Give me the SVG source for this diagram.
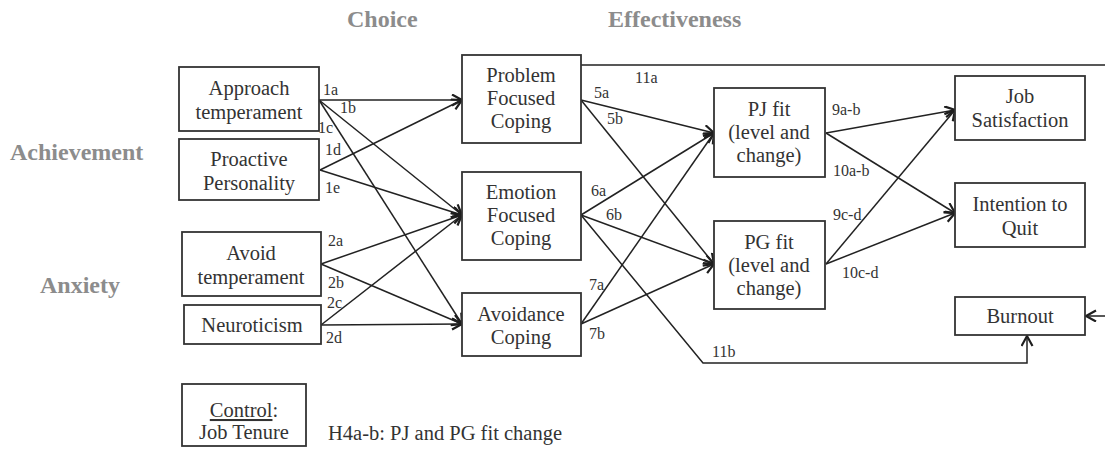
<svg xmlns="http://www.w3.org/2000/svg" width="1105" height="450" viewBox="0 0 1105 450">
<defs>
<marker id="arr" markerUnits="userSpaceOnUse" markerWidth="16" markerHeight="16" refX="11" refY="6" orient="auto">
<path d="M1,0.5 L11,6 L1,11.5" fill="none" stroke="#1e1e1e" stroke-width="2.2" stroke-linejoin="miter"/>
</marker>
<style>
.box{fill:#fff;stroke:#333;stroke-width:1.8}
.t{font-family:"Liberation Serif","Times New Roman",serif;font-size:20.5px;fill:#333;text-anchor:middle}
.lb{font-family:"Liberation Serif","Times New Roman",serif;font-size:16px;fill:#333}
.hd{font-family:"Liberation Serif","Times New Roman",serif;font-size:24px;font-weight:bold;fill:#8c8c8c}
.c{fill:none;stroke:#222;stroke-width:1.5}
.ca{fill:none;stroke:#222;stroke-width:1.5;marker-end:url(#arr)}
</style>
</defs>
<rect width="1105" height="450" fill="#fff"/>

<g id="headers">
<text class="hd" x="347" y="27">Choice</text>
<text class="hd" x="608" y="27">Effectiveness</text>
<text class="hd" x="10" y="160">Achievement</text>
<text class="hd" x="40" y="293">Anxiety</text>
</g>

<g id="connectors">
<line class="ca" x1="319" y1="100" x2="462" y2="100"/>
<line class="ca" x1="319" y1="100" x2="462" y2="215"/>
<line class="ca" x1="319" y1="100" x2="462" y2="324"/>
<line class="ca" x1="320" y1="170" x2="462" y2="100"/>
<line class="ca" x1="320" y1="170" x2="462" y2="215"/>
<line class="ca" x1="321" y1="264" x2="462" y2="215"/>
<line class="ca" x1="321" y1="264" x2="462" y2="324"/>
<line class="ca" x1="321" y1="325" x2="462" y2="215"/>
<line class="ca" x1="321" y1="325" x2="462" y2="324"/>

<line class="ca" x1="581" y1="100" x2="714" y2="133"/>
<line class="ca" x1="581" y1="100" x2="714" y2="264"/>
<line class="ca" x1="581" y1="215" x2="714" y2="133"/>
<line class="ca" x1="581" y1="215" x2="714" y2="264"/>
<line class="ca" x1="581" y1="324" x2="714" y2="133"/>
<line class="ca" x1="581" y1="324" x2="714" y2="264"/>

<line class="ca" x1="826" y1="133" x2="955" y2="110"/>
<line class="ca" x1="826" y1="133" x2="955" y2="213"/>
<line class="ca" x1="826" y1="264" x2="955" y2="110"/>
<line class="ca" x1="826" y1="264" x2="955" y2="213"/>

<polyline class="ca" points="581,65 1112,65 1112,316 1086,316"/>
<polyline class="ca" points="581,215 703,363 1027,363 1027,336"/>
</g>

<g id="edge-labels">
<text class="lb" x="323" y="95">1a</text>
<text class="lb" x="340" y="113">1b</text>
<text class="lb" x="318" y="133">1c</text>
<text class="lb" x="325" y="155">1d</text>
<text class="lb" x="325" y="193">1e</text>
<text class="lb" x="328" y="246">2a</text>
<text class="lb" x="328" y="288">2b</text>
<text class="lb" x="327" y="308">2c</text>
<text class="lb" x="326" y="343">2d</text>
<text class="lb" x="635" y="83">11a</text>
<text class="lb" x="594" y="98">5a</text>
<text class="lb" x="607" y="124">5b</text>
<text class="lb" x="591" y="196">6a</text>
<text class="lb" x="606" y="220">6b</text>
<text class="lb" x="589" y="290">7a</text>
<text class="lb" x="589" y="339">7b</text>
<text class="lb" x="712" y="357">11b</text>
<text class="lb" x="832" y="115">9a-b</text>
<text class="lb" x="833" y="176">10a-b</text>
<text class="lb" x="833" y="220">9c-d</text>
<text class="lb" x="842" y="278">10c-d</text>
</g>

<g id="approach">
<rect class="box" x="179" y="67" width="140" height="64"/>
<text class="t" x="249" y="95">Approach</text>
<text class="t" x="249" y="119">temperament</text>
</g>
<g id="proactive">
<rect class="box" x="179" y="139" width="140" height="61"/>
<text class="t" x="249" y="166">Proactive</text>
<text class="t" x="249" y="190">Personality</text>
</g>
<g id="avoid">
<rect class="box" x="182" y="232" width="139" height="64"/>
<text class="t" x="251" y="260">Avoid</text>
<text class="t" x="251" y="284">temperament</text>
</g>
<g id="neuroticism">
<rect class="box" x="184" y="305" width="137" height="39"/>
<text class="t" x="252" y="332">Neuroticism</text>
</g>

<g id="problem-focused">
<rect class="box" x="462" y="55" width="119" height="88"/>
<text class="t" x="521" y="82">Problem</text>
<text class="t" x="521" y="105">Focused</text>
<text class="t" x="521" y="128">Coping</text>
</g>
<g id="emotion-focused">
<rect class="box" x="462" y="172" width="119" height="88"/>
<text class="t" x="521" y="199">Emotion</text>
<text class="t" x="521" y="222">Focused</text>
<text class="t" x="521" y="245">Coping</text>
</g>
<g id="avoidance">
<rect class="box" x="462" y="293" width="119" height="63"/>
<text class="t" x="521" y="321">Avoidance</text>
<text class="t" x="521" y="344">Coping</text>
</g>

<g id="pj-fit">
<rect class="box" x="714" y="88" width="111" height="89"/>
<text class="t" x="769" y="116">PJ fit</text>
<text class="t" x="769" y="139">(level and</text>
<text class="t" x="769" y="162">change)</text>
</g>
<g id="pg-fit">
<rect class="box" x="714" y="221" width="111" height="88"/>
<text class="t" x="769" y="249">PG fit</text>
<text class="t" x="769" y="272">(level and</text>
<text class="t" x="769" y="295">change)</text>
</g>

<g id="job-satisfaction">
<rect class="box" x="955" y="76" width="130" height="64"/>
<text class="t" x="1020" y="103">Job</text>
<text class="t" x="1020" y="127">Satisfaction</text>
</g>
<g id="intention">
<rect class="box" x="955" y="183" width="130" height="64"/>
<text class="t" x="1020" y="211">Intention to</text>
<text class="t" x="1020" y="235">Quit</text>
</g>
<g id="burnout">
<rect class="box" x="955" y="297" width="130" height="38"/>
<text class="t" x="1020" y="323">Burnout</text>
</g>

<g id="control">
<rect class="box" x="182" y="384" width="124" height="62"/>
<text class="t" x="244" y="417"><tspan text-decoration="underline">Control</tspan>:</text>
<text class="t" x="244" y="439">Job Tenure</text>
</g>
<text class="t" x="328" y="440" style="text-anchor:start">H4a-b: PJ and PG fit change</text>
</svg>
